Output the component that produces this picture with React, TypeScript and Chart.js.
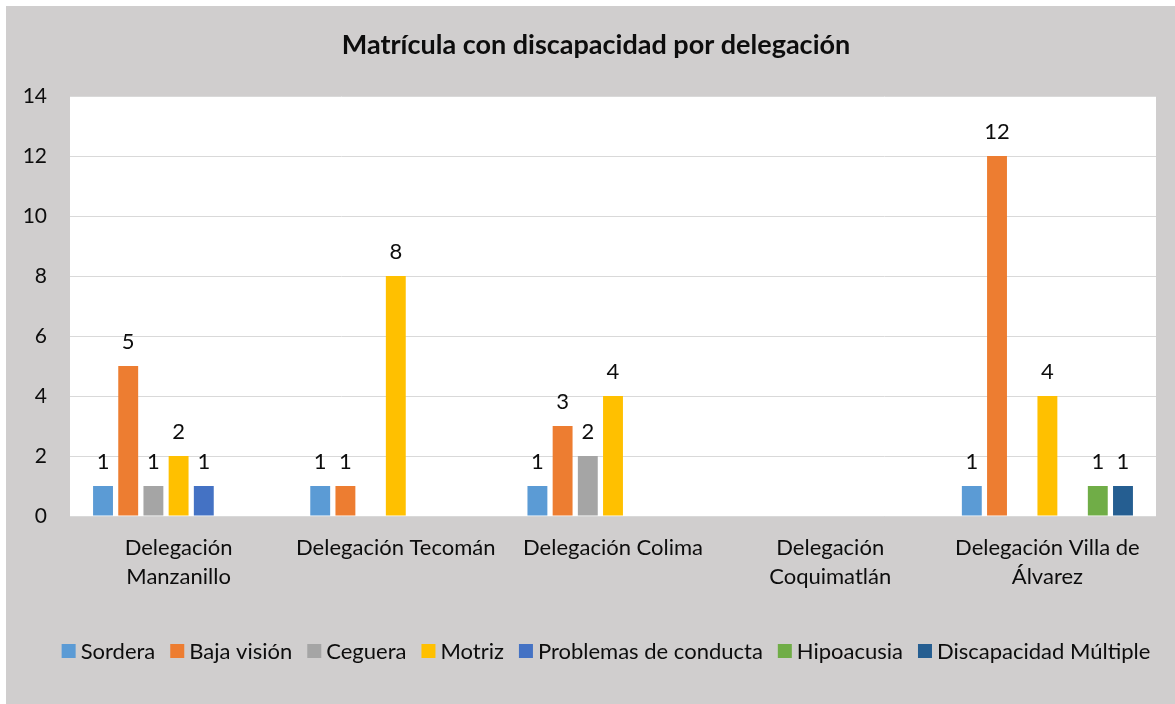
import React, { useEffect, useRef } from "react";
import { Chart, registerables } from "chart.js";

Chart.register(...registerables);

const TITLE = "Matrícula con discapacidad por delegación";
const categories: (string | string[])[] = [
  ["Delegación", "Manzanillo"],
  "Delegación Tecomán",
  "Delegación Colima",
  ["Delegación", "Coquimatlán"],
  ["Delegación Villa de", "Álvarez"],
];
const seriesNames = [
  "Sordera",
  "Baja visión",
  "Ceguera",
  "Motriz",
  "Problemas de conducta",
  "Hipoacusia",
  "Discapacidad Múltiple",
];
const sordera = [1, 1, 1, null, 1];
const bajaVision = [5, 1, 3, null, 12];
const ceguera = [1, null, 2, null, null];
const motriz = [2, 8, 4, null, 4];
const problemasConducta = [1, null, null, null, null];
const hipoacusia = [null, null, null, null, 1];
const discapacidadMultiple = [null, null, null, null, 1];
const seriesColors = ["#5B9BD5", "#ED7D31", "#A5A5A5", "#FFC000", "#4472C4", "#70AD47", "#255E91"];
const yTicks = [0, 2, 4, 6, 8, 10, 12, 14];

const FONT = "Lato, 'Open Sans', sans-serif";
const TEXT = "#0d0d0d";

const decorPlugin = {
  id: "decor",
  beforeDraw(chart: any) {
    const { ctx, chartArea } = chart;
    ctx.save();
    ctx.fillStyle = "#D0CECE";
    ctx.fillRect(6, 6, chart.width - 6, chart.height - 6);
    ctx.fillStyle = "#FFFFFF";
    ctx.fillRect(chartArea.left, chartArea.top, chartArea.right - chartArea.left, chartArea.bottom - chartArea.top);
    ctx.restore();
  },
  afterDraw(chart: any) {
    const { ctx } = chart;
    ctx.save();
    // title
    ctx.fillStyle = TEXT;
    ctx.font = `bold 27px ${FONT}`;
    ctx.textAlign = "center";
    ctx.textBaseline = "middle";
    ctx.fillText(TITLE, 596, 45);
    // data labels
    ctx.font = `22px ${FONT}`;
    ctx.textBaseline = "alphabetic";
    chart.data.datasets.forEach((ds: any, i: number) => {
      const meta = chart.getDatasetMeta(i);
      meta.data.forEach((bar: any, j: number) => {
        const v = ds.data[j];
        if (v === null || v === undefined) return;
        ctx.fillText(String(v), bar.x, bar.y - 17);
      });
    });
    // legend
    ctx.font = `22px ${FONT}`;
    const box = 14, gapBox = 5, gapItem = 15;
    const widths = chart.data.datasets.map((ds: any) => ctx.measureText(ds.label).width);
    const total = widths.reduce((a: number, w: number) => a + box + gapBox + w, 0) + gapItem * (widths.length - 1);
    let x = 606 - total / 2;
    const yc = 651;
    ctx.textAlign = "left";
    ctx.textBaseline = "middle";
    chart.data.datasets.forEach((ds: any, i: number) => {
      ctx.fillStyle = ds.backgroundColor;
      ctx.fillRect(x, yc - box / 2, box, box);
      ctx.fillStyle = TEXT;
      ctx.fillText(ds.label, x + box + gapBox, yc + 1);
      x += box + gapBox + widths[i] + gapItem;
    });
    ctx.restore();
  },
};

export default function App() {
  const ref = useRef<HTMLCanvasElement>(null);
  useEffect(() => {
    if (!ref.current) return;
    const values = [sordera, bajaVision, ceguera, motriz, problemasConducta, hipoacusia, discapacidadMultiple];
    const chart = new Chart(ref.current, {
      type: "bar",
      data: {
        labels: categories,
        datasets: seriesNames.map((name, i) => ({
          label: name,
          data: values[i],
          backgroundColor: seriesColors[i],
          borderWidth: 0,
          categoryPercentage: 0.812,
          barPercentage: 0.79,
        })),
      },
      options: {
        responsive: false,
        animation: false,
        layout: { padding: { top: 96, left: 6, right: 19, bottom: 0 } },
        plugins: {
          legend: { display: false },
          title: { display: false },
          tooltip: { enabled: false },
        },
        scales: {
          x: {
            grid: { display: false, drawTicks: false },
            border: { display: false },
            ticks: {
              color: TEXT,
              font: { family: FONT, size: 22, lineHeight: 1.32 },
              padding: 17.5,
              maxRotation: 0,
              autoSkip: false,
            },
            afterFit(scale: any) {
              scale.height = 188;
            },
          },
          y: {
            min: 0,
            max: 14,
            afterBuildTicks(scale: any) {
              scale.ticks = yTicks.map((v) => ({ value: v }));
            },
            grid: { color: "#D9D9D9", lineWidth: 1, drawTicks: false },
            border: { display: false },
            ticks: {
              color: TEXT,
              font: { family: FONT, size: 21 },
              padding: 23,
            },
            afterFit(scale: any) {
              scale.width = 64;
            },
          },
        },
      },
      plugins: [decorPlugin],
    });
    return () => chart.destroy();
  }, []);
  return (
    <div style={{ position: "fixed", left: 0, top: 0, width: 1175, height: 704, background: "#fff" }}>
      <canvas ref={ref} width={1175} height={704} style={{ display: "block" }} />
    </div>
  );
}
